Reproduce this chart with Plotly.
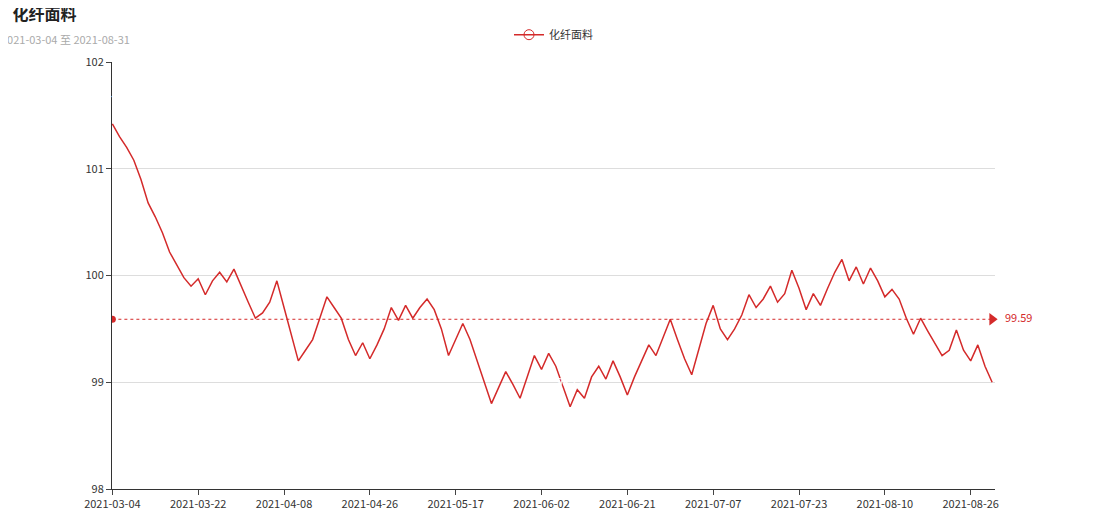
import plotly.graph_objects as go
import pandas as pd
import numpy as np

holidays = ["2021-04-05", "2021-05-03", "2021-05-04", "2021-05-05", "2021-06-14"]
dates = [d.strftime("%Y-%m-%d") for d in pd.bdate_range("2021-03-04", "2021-08-31") if d.strftime("%Y-%m-%d") not in holidays]
values = [101.42,101.3,101.2,101.08,100.9,100.68,100.55,100.4,100.22,100.1,
99.98,99.9,99.97,99.82,99.95,100.03,99.94,100.06,99.9,99.75,
99.6,99.65,99.75,99.95,99.7,99.45,99.2,99.3,99.4,99.6,
99.8,99.7,99.6,99.4,99.25,99.37,99.22,99.35,99.5,99.7,
99.58,99.72,99.6,99.7,99.78,99.68,99.5,99.25,99.4,99.55,
99.4,99.2,99.0,98.8,98.95,99.1,98.98,98.85,99.05,99.25,
99.12,99.27,99.15,98.95,98.77,98.93,98.85,99.05,99.15,99.03,
99.2,99.05,98.88,99.05,99.2,99.35,99.25,99.42,99.59,99.4,
99.22,99.07,99.3,99.55,99.72,99.5,99.4,99.5,99.63,99.82,
99.7,99.78,99.9,99.75,99.83,100.05,99.88,99.68,99.83,99.72,
99.88,100.03,100.15,99.95,100.08,99.92,100.07,99.95,99.8,99.87,
99.78,99.6,99.45,99.6,99.48,99.37,99.25,99.3,99.49,99.3,
99.2,99.35,99.15,99.0]
dates = dates[:len(values)]
series_name = "化纤面料"
avg_label = "99.59"
avg = 99.59
red = "#d42a2a"

fig = go.Figure()
fig.add_trace(go.Scatter(x=dates, y=values, mode="lines", name=series_name,
                         line=dict(color=red, width=1.5), showlegend=False))
fig.add_trace(go.Scatter(x=[None], y=[None], mode="lines+markers", name=series_name,
                         line=dict(color=red, width=1.5),
                         marker=dict(symbol="circle-open", size=10, color=red), showlegend=True))

fig.add_trace(go.Scatter(x=[dates[0], dates[-1]], y=[avg, avg], mode="lines",
                         line=dict(color=red, width=1, dash="dot"), showlegend=False, hoverinfo="skip"))
fig.add_trace(go.Scatter(x=[dates[0]], y=[avg], mode="markers", marker=dict(color=red, size=7),
                         showlegend=False))
fig.add_trace(go.Scatter(x=[dates[-1]], y=[avg], mode="markers+text",
                         marker=dict(color=red, size=11, symbol="triangle-right"),
                         text=["  " + avg_label], textposition="middle right",
                         textfont=dict(color=red, size=11), showlegend=False, cliponaxis=False))

imax = int(np.argmax(values)); imin = int(np.argmin(values))
for i, lab in [(imax, "101.4"), (imin, "98.75")]:
    fig.add_shape(type="path", xref="x", yref="y", xsizemode="pixel", ysizemode="pixel",
                  xanchor=i, yanchor=values[i],
                  path="M0,0 L-11,16 A14,14 0 1,1 11,16 Z",
                  fillcolor=red, line=dict(color=red, width=0), layer="above")
    fig.add_annotation(x=dates[i], y=values[i], text=lab, showarrow=False, yshift=25,
                       font=dict(color="white", size=10, family="Noto Sans"))

fig.update_layout(
    width=1108, height=530, plot_bgcolor="white", paper_bgcolor="white",
    margin=dict(l=104, r=121, t=48, b=49),
    font=dict(family="Noto Sans CJK SC", size=11, color="#333"),
    title=dict(text="<b>化纤面料</b>", x=0.004, y=0.998, xanchor="left", yanchor="top",
               font=dict(size=16, color="#222")),
    legend=dict(orientation="h", x=0.5, y=1.03, xanchor="center", yanchor="bottom",
                font=dict(size=11, color="#333")),
    showlegend=True,
)
fig.add_annotation(xref="paper", yref="paper", x=-0.128, y=1.03, xanchor="left", yanchor="bottom",
                   text="2021-03-04 至 2021-08-31", showarrow=False, font=dict(size=11, color="#aaa"))
fig.update_xaxes(type="category", tickvals=dates[::12], ticktext=dates[::12], ticks="outside",
                 showline=True, linecolor="#333", showgrid=False, tickfont=dict(size=11, color="#333"),
                 range=[-0.05, len(values) - 0.6], tickangle=0)
fig.update_yaxes(range=[98, 102], dtick=1, showline=True, linecolor="#333", ticks="outside",
                 gridcolor="#ddd", zeroline=False, tickfont=dict(size=11, color="#333"))
fig.write_html("out.html")
